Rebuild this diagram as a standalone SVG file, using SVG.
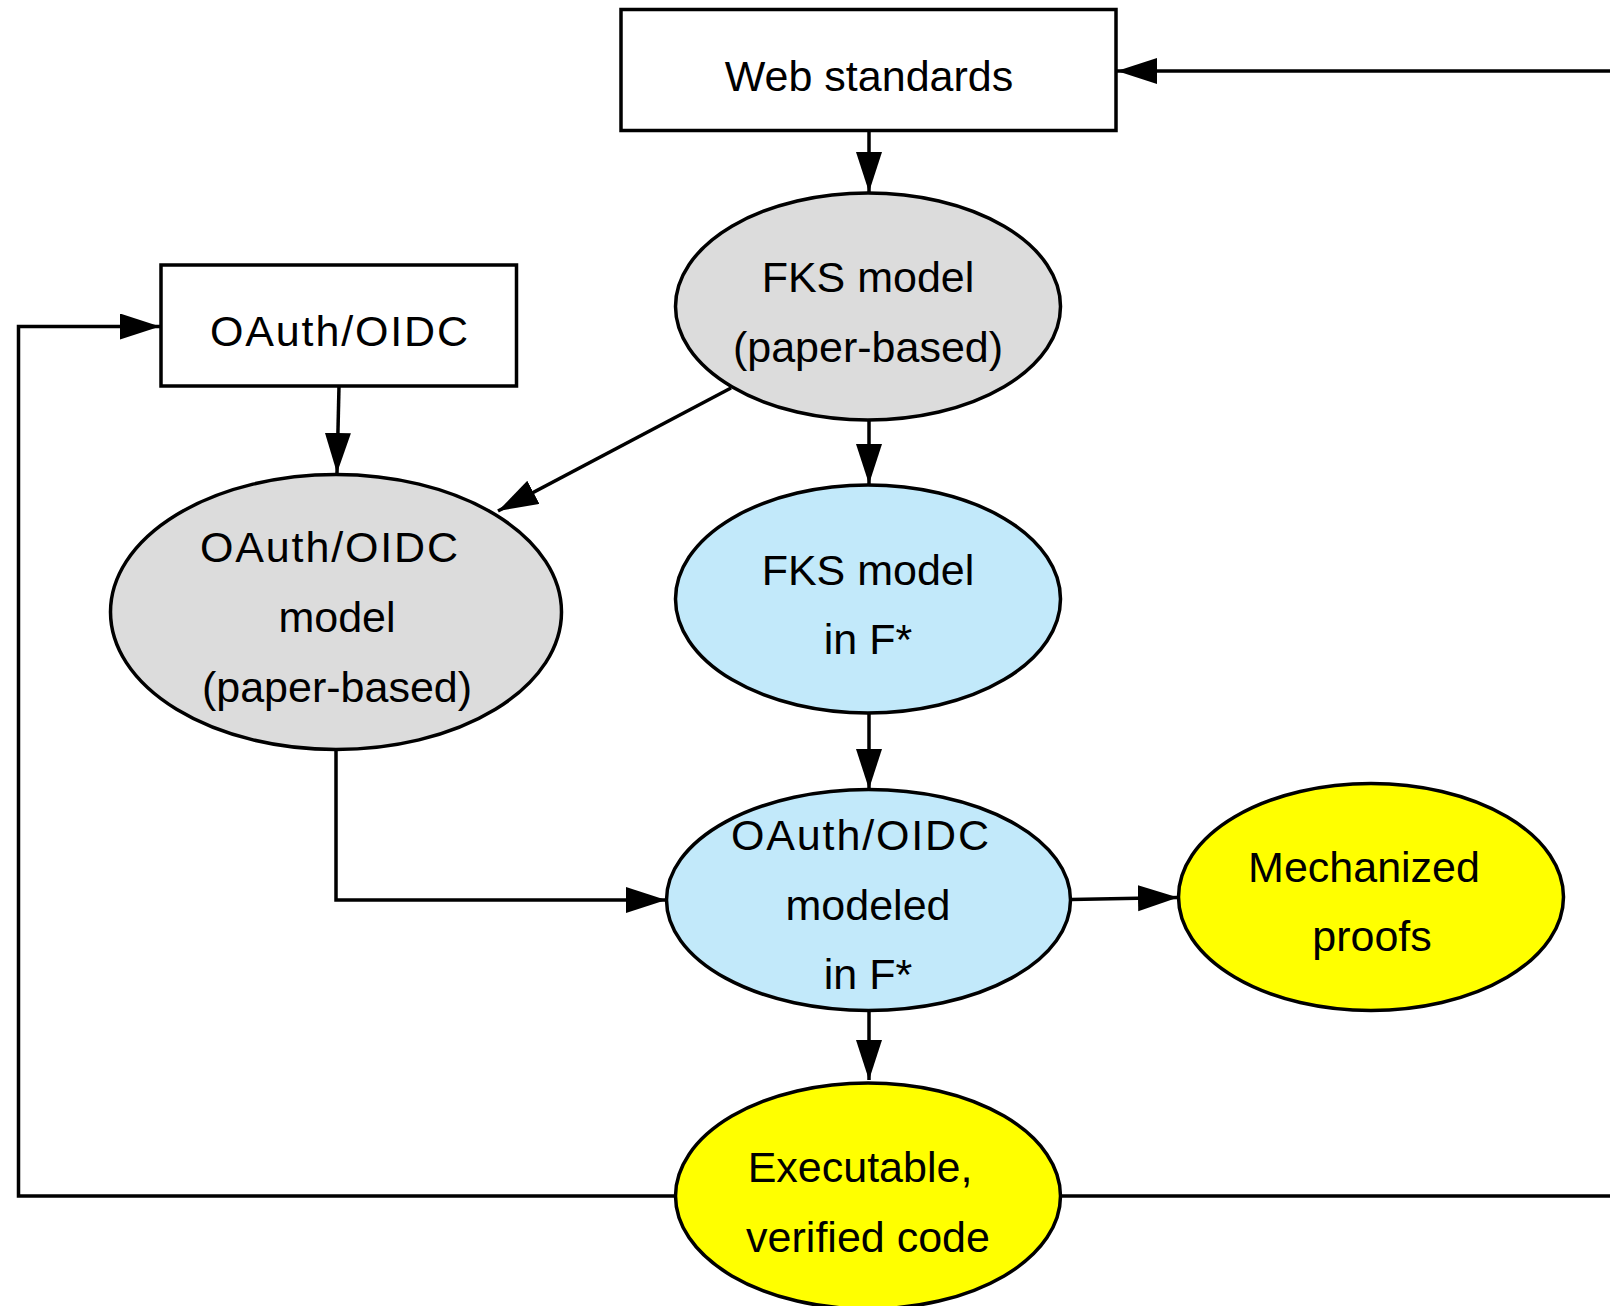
<svg xmlns="http://www.w3.org/2000/svg" width="1610" height="1306" viewBox="0 0 1610 1306">
<style>
.box{fill:#fff;stroke:#000;stroke-width:3.5}
.grey{fill:#dcdcdc;stroke:#000;stroke-width:3.5}
.blue{fill:#c2e9fa;stroke:#000;stroke-width:3.5}
.yellow{fill:#ffff00;stroke:#000;stroke-width:3.5}
.t{font-family:"Liberation Sans",Arial,sans-serif;font-size:43px;fill:#000;text-anchor:middle;dominant-baseline:central}
.e{fill:none;stroke:#000;stroke-width:3.5}
.a{marker-end:url(#arr)}
</style>
<defs>
<marker id="arr" markerUnits="userSpaceOnUse" markerWidth="42" markerHeight="28" refX="40" refY="13" orient="auto">
<path d="M0,0 L40,13 L0,26 z" fill="#000"/>
</marker>
</defs>
<rect width="1610" height="1306" fill="#fff"/>
<g id="connectors">
<path class="e a" d="M1610,71 L1117,71"/>
<path class="e a" d="M869,131 L869,192"/>
<path class="e a" d="M339,386 L337,473"/>
<path class="e a" d="M731,388 L498,511"/>
<path class="e a" d="M869,420 L869,484"/>
<path class="e a" d="M869,713 L869,789"/>
<path class="e a" d="M336,750 L336,900 L666,900"/>
<path class="e a" d="M1071,899.5 L1178,897.5"/>
<path class="e a" d="M869,1010 L869,1080"/>
<path class="e a" d="M676,1196 L18.5,1196 L18.5,326.5 L160,326.5"/>
<path class="e" d="M1060,1196 L1610,1196"/>
</g>
<g id="web-standards">
<rect class="box" x="621" y="9.5" width="495" height="121"/>
<text class="t" x="869" y="76">Web standards</text>
</g>
<g id="fks-paper">
<ellipse class="grey" cx="868" cy="306.5" rx="192.5" ry="113.5"/>
<text class="t" x="868" y="277">FKS model</text>
<text class="t" x="868" y="347">(paper-based)</text>
</g>
<g id="oauth">
<rect class="box" x="161" y="265" width="355.5" height="121"/>
<text class="t" x="339" y="331" textLength="258" lengthAdjust="spacing">OAuth/OIDC</text>
</g>
<g id="oauth-paper">
<ellipse class="grey" cx="336" cy="612" rx="225.5" ry="137.5"/>
<text class="t" x="329" y="547" textLength="258" lengthAdjust="spacing">OAuth/OIDC</text>
<text class="t" x="337" y="617">model</text>
<text class="t" x="337" y="687">(paper-based)</text>
</g>
<g id="fks-fstar">
<ellipse class="blue" cx="868" cy="599" rx="192.5" ry="114"/>
<text class="t" x="868" y="570">FKS model</text>
<text class="t" x="868" y="639">in F*</text>
</g>
<g id="oauth-fstar">
<ellipse class="blue" cx="868.5" cy="900" rx="202" ry="110.5"/>
<text class="t" x="860" y="835" textLength="258" lengthAdjust="spacing">OAuth/OIDC</text>
<text class="t" x="868" y="905">modeled</text>
<text class="t" x="868" y="974">in F*</text>
</g>
<g id="mechanized">
<ellipse class="yellow" cx="1371" cy="897" rx="192.5" ry="113.5"/>
<text class="t" x="1364" y="867">Mechanized</text>
<text class="t" x="1372" y="936">proofs</text>
</g>
<g id="executable">
<ellipse class="yellow" cx="868" cy="1196" rx="192.5" ry="113"/>
<text class="t" x="860" y="1167">Executable,</text>
<text class="t" x="868" y="1237">verified code</text>
</g>
</svg>
